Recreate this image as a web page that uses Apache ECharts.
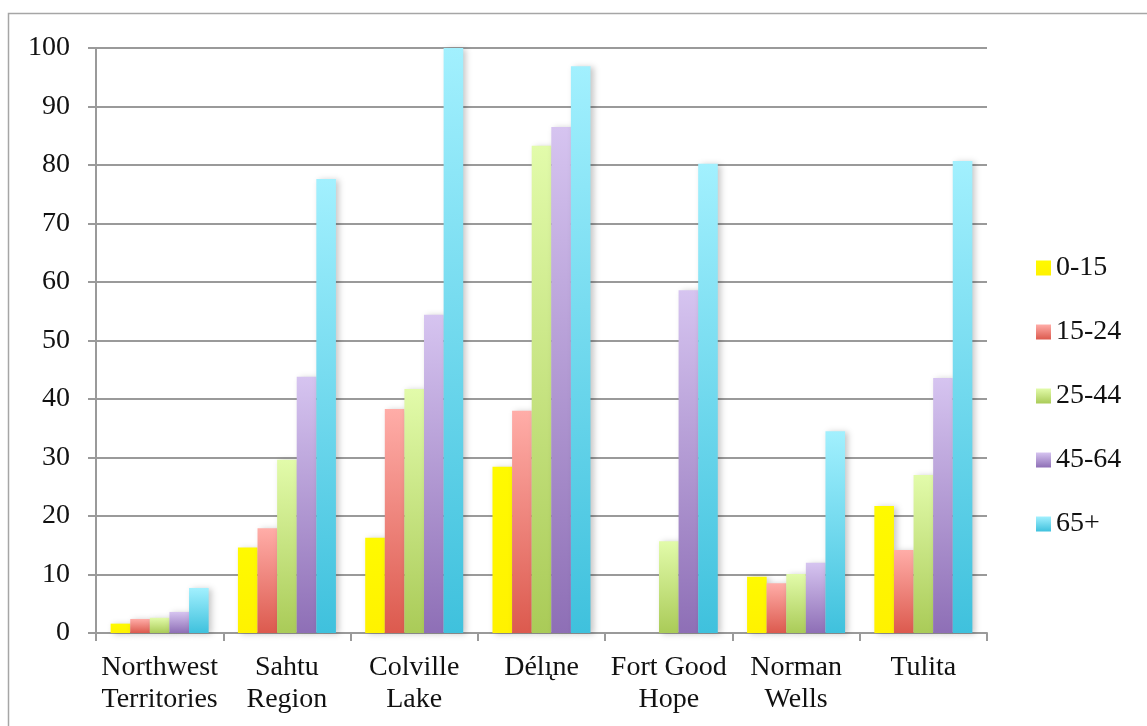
<!DOCTYPE html>
<html>
<head>
<meta charset="utf-8">
<script src="https://cdn.jsdelivr.net/npm/echarts@6/dist/echarts.min.js"></script>
<style>
  html, body { margin: 0; padding: 0; background: #fff; }
  #chart { width: 1147px; height: 726px; }
</style>
</head>
<body>
<div id="chart"></div>
<script>
// Communities (two-line axis labels)
const categories = ['Northwest\nTerritories', 'Sahtu\nRegion', 'Colville\nLake', 'Délı̨ne', 'Fort Good\nHope', 'Norman\nWells', 'Tulita'];

// Age groups
const ageGroups = ['0-15', '15-24', '25-44', '45-64', '65+'];

// Percent per community, one array per age group
const age0to15  = [1.6, 14.6, 16.3, 28.4, 0,    9.6, 21.7];
const age15to24 = [2.4, 17.9, 38.3, 38.0, 0,    8.5, 14.2];
const age25to44 = [2.6, 29.6, 41.7, 83.3, 15.7, 10.1, 27.0];
const age45to64 = [3.6, 43.8, 54.4, 86.5, 58.6, 12.0, 43.6];
const age65plus = [7.7, 77.6, 100.0, 96.9, 80.2, 34.5, 80.7];

const yTicks = { min: 0, max: 100, interval: 10 };

const seriesValues = [age0to15, age15to24, age25to44, age45to64, age65plus];

// Top / bottom colours of each bar's vertical gradient
const gradients = [
  ['#FFFA00', '#FFF200'],
  ['#FFADA8', '#DC5A4E'],
  ['#E2FBAA', '#AACB58'],
  ['#D6C4F0', '#8E6FB6'],
  ['#A2F0FE', '#3FC1DD']
];

function grad(c) {
  return new echarts.graphic.LinearGradient(0, 0, 0, 1, [
    { offset: 0, color: c[0] },
    { offset: 1, color: c[1] }
  ]);
}

const fontFamily = '"Liberation Serif", "DejaVu Serif", serif';

const chart = echarts.init(document.getElementById('chart'), null, { renderer: 'canvas' });

chart.setOption({
  animation: false,
  backgroundColor: '#ffffff',
  textStyle: { fontFamily: fontFamily },
  graphic: [{
    type: 'rect',
    shape: { x: 8.5, y: 13.5, width: 1160, height: 740 },
    style: { fill: 'none', stroke: '#a6a6a6', lineWidth: 1.5 },
    silent: true,
    z: -1
  }],
  grid: { left: 96, right: 160, top: 48, bottom: 93 },
  legend: {
    orient: 'vertical',
    left: 1036,
    top: 254,
    padding: 0,
    itemWidth: 15,
    itemHeight: 15,
    itemGap: 36,
    icon: 'rect',
    textStyle: { fontSize: 28, color: '#111', fontFamily: fontFamily },
    data: ageGroups
  },
  xAxis: {
    type: 'category',
    data: categories,
    axisLine: { show: true, lineStyle: { color: '#9a9a9a', width: 2 } },
    axisTick: { show: true, length: 8, alignWithLabel: false, lineStyle: { color: '#9a9a9a', width: 2 } },
    axisLabel: {
      color: '#111',
      fontSize: 28,
      fontFamily: fontFamily,
      lineHeight: 32,
      margin: 19,
      interval: 0
    },
    splitLine: { show: false }
  },
  yAxis: {
    type: 'value',
    min: yTicks.min,
    max: yTicks.max,
    interval: yTicks.interval,
    axisLine: { show: true, lineStyle: { color: '#9a9a9a', width: 2 } },
    axisTick: { show: true, length: 8, lineStyle: { color: '#9a9a9a', width: 2 } },
    axisLabel: { color: '#111', fontSize: 28, fontFamily: fontFamily, margin: 26 },
    splitLine: { show: true, lineStyle: { color: '#9a9a9a', width: 2 } }
  },
  series: ageGroups.map((name, i) => ({
    name: name,
    type: 'bar',
    data: seriesValues[i],
    barGap: '0%',
    barCategoryGap: '23%',
    itemStyle: {
      color: grad(gradients[i]),
      shadowColor: 'rgba(0,0,0,0.22)',
      shadowBlur: 6,
      shadowOffsetX: 3,
      shadowOffsetY: 1
    }
  }))
});
</script>
</body>
</html>
